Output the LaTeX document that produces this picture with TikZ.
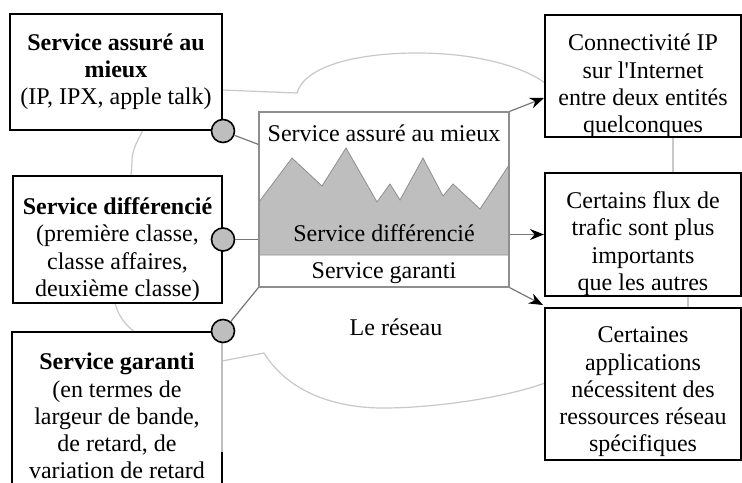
\documentclass[tikz,border=0pt]{standalone}
\usepackage{fontspec}
\setmainfont{Liberation Serif}
\usetikzlibrary{arrows.meta,positioning,calc}
\definecolor{cloudgray}{HTML}{C8C8C8}
\definecolor{linkgray} {HTML}{777777}
\definecolor{fillgray} {HTML}{BEBEBE}
\definecolor{edgegray} {HTML}{8E8E8E}
\tikzset{
  svcbox/.style  ={draw=black, fill=white, line width=1pt, inner sep=0pt},
  needbox/.style ={draw=black, fill=white, line width=1pt, inner sep=0pt,
                   minimum width=98pt},
  boxtext/.style ={align=center, inner sep=0pt,
                   font=\fontsize{12}{13.6}\selectfont},
  bandtext/.style={inner sep=0pt, font=\fontsize{12}{13.6}\selectfont},
  knob/.style    ={circle, draw=black, fill=fillgray, line width=0.8pt,
                   minimum size=11.5pt, inner sep=0pt},
  linkline/.style={draw=linkgray, line width=0.6pt},
  needarr/.style ={-{Stealth[length=7pt,width=5.5pt,color=black]},
                   draw=linkgray, line width=0.6pt},
  cloudline/.style={draw=cloudgray, line width=0.6pt},
}

\begin{document}
\begin{tikzpicture}[x=0.5pt,y=-0.5pt]
        \clip (0,0) rectangle (742,482);
        \fill[white] (0,0) rectangle (742,482);
        % cloud outline behind the boxes
        \draw[cloudline] (222,90) -- (297,93)
          .. controls (305,65) and (360,53) .. (417,53)
          .. controls (480,53) and (525,68) .. (545,83);
        \draw[cloudline] (143,130) .. controls (135,145) and (132,152) .. (132,162) -- (131,176);
        \draw[cloudline] (115,303) .. controls (118,315) and (125,325) .. (135,332);
        \draw[cloudline] (222,361) -- (264,353)
          .. controls (290,395) and (340,408) .. (383,408)
          .. controls (440,408) and (510,396) .. (545,383);
        \draw[cloudline] (673,137) -- (673,173);
        \draw[cloudline] (688,296) -- (688,308);
        % the network and its three levels
        \fill[fillgray,draw=edgegray,line width=0.4pt]
          (259,202) -- (292,158) -- (322,186) -- (346,148) -- (377,202)
          -- (390,184) -- (400,200) -- (423,158) -- (443,196) -- (453,184)
          -- (480,209) -- (509,165) -- (509,255) -- (259,255) -- cycle;
        \node[draw=edgegray,line width=0.6pt,minimum width=125pt,minimum height=87.5pt,
              inner sep=0pt] (net) at (384,199.5) {};
        \node[bandtext] (bestlbl) at (384,133) {Service assuré au mieux};
        \node[bandtext] (difflbl) at (384,233) {Service différencié};
        \node[bandtext] (garlbl)  at (384,273) {Service garanti};
        \node[bandtext] (netlbl)  at (396,327) {Le réseau};
        % service classes
        \node[svcbox,minimum width=106pt,minimum height=58pt] (best) at (116,72) {};
        \node[boxtext] (besttxt) at (best.center)
          {\textbf{Service assuré au}\\\textbf{mieux}\\(IP, IPX, apple talk)};
        \node[svcbox,minimum width=104.5pt,minimum height=63.5pt] (diff) at (117.5,239.5) {};
        \node[boxtext] (difftxt) at ([yshift=-5pt]diff.center)
          {\textbf{Service différencié}\\(première classe,\\classe affaires,\\deuxième classe)};
        \node[svcbox,minimum width=105pt,minimum height=82pt] (guar) at (117,414) {};
        \node[boxtext] (guartxt) at ([yshift=-1pt]guar.center)
          {\textbf{Service garanti}\\(en termes de\\largeur de bande,\\de retard, de\\variation de retard};
        \draw[draw=fillgray,line width=1.4pt] ($(guar.north east)+(-1,8)$) -- ($(guar.north east)+(-1,121)$);
        % needs
        \node[needbox,minimum height=61pt] (conn) at (643,76) {};
        \node[boxtext] (conntxt) at ([yshift=-5pt]conn.center)
          {Connectivité IP\\sur l\textquotesingle Internet\\entre deux entités\\quelconques};
        \node[needbox,minimum height=61.5pt] (flows) at (643,234.5) {};
        \node[boxtext] (flowstxt) at ([yshift=-4.5pt]flows.center)
          {Certains flux de\\trafic sont plus\\importants\\que les autres};
        \node[needbox,minimum height=76pt] (apps) at (643,384) {};
        \node[boxtext] (appstxt) at ([yshift=-4pt]apps.center)
          {Certaines\\applications\\nécessitent des\\ressources réseau\\spécifiques};
        % knobs and links
        \node[knob] (k1) at (best.south east) {};
        \node[knob] (k2) at (diff.east) {};
        \node[knob] (k3) at (guar.north east) {};
        \draw[linkline] (k1) -- ([yshift=-16.5pt]net.north west);
        \draw[linkline] (k2) -- (k2 -| net.west);
        \draw[linkline] (k3) -- (net.south west);
        \draw[needarr] (net.north east) -- ([yshift=-11pt]conn.west);
        \draw[needarr] (net.east |- flows.west) -- (flows.west);
        \draw[needarr] (net.south east) -- ([xshift=-0.5pt,yshift=1pt]apps.north west);
      \end{tikzpicture}
\end{document}
